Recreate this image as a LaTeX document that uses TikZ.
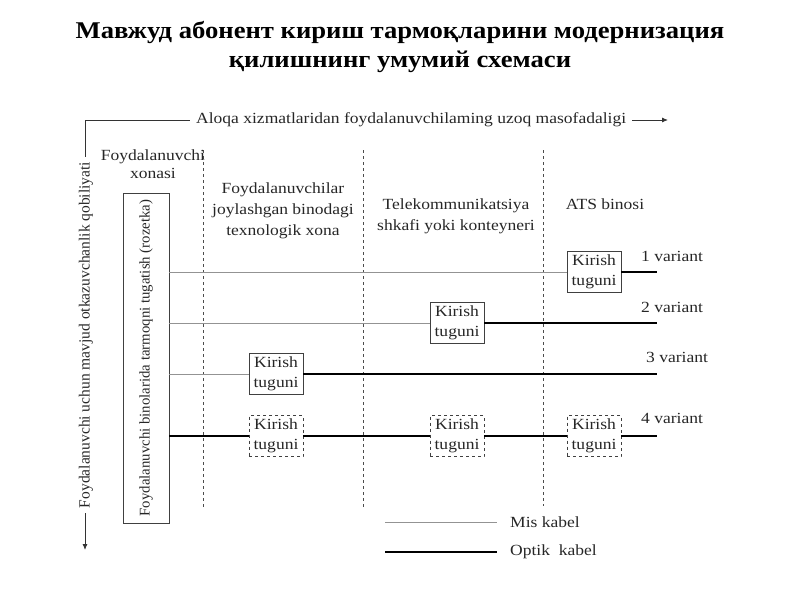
\documentclass[tikz,border=0pt]{standalone}
\usepackage{fontspec}
\setmainfont{Liberation Serif}
\usetikzlibrary{arrows.meta}
\newcommand{\wfont}{\fontsize{15.5}{21}\selectfont\addfontfeature{FakeStretch=1.13}}
\begin{document}
\begin{tikzpicture}[x=1pt,y=-1pt,
  lbl/.style={font=\wfont, align=center, inner sep=1pt, text=black!85},
  kbox/.style={draw=black!75, line width=0.9pt, minimum width=54pt, minimum height=41pt, inner sep=1pt, align=center, font=\fontsize{15.5}{20}\selectfont\addfontfeature{FakeStretch=1.13}, fill=white, text=black!85},
  kdash/.style={kbox, dashed},
  mis/.style={draw=gray!85, line width=1pt},
  opt/.style={draw=black, line width=2.6pt},
  sep/.style={draw=black!70, dashed, line width=0.7pt},
  thinl/.style={draw=black!80, line width=0.9pt},
  ttl/.style={font=\bfseries\fontsize{24}{28}\selectfont\addfontfeature{FakeStretch=1.11}},
]
\useasboundingbox (0,0) rectangle (800,600);
% title
\node[ttl] (t1) at (400,32) {Мавжуд абонент кириш тармоқларини модернизация};
\node[ttl] (t2) at (400,62) {қилишнинг умумий схемаси};
% column separators
\coordinate (s1a) at (203,150); \coordinate (s1b) at (203,508);
\coordinate (s2a) at (363,150); \coordinate (s2b) at (363,508);
\coordinate (s3a) at (543,150); \coordinate (s3b) at (543,506);
\draw[sep] (s1a) -- (s1b);
\draw[sep] (s2a) -- (s2b);
\draw[sep] (s3a) -- (s3b);
% top axis
\node[lbl, anchor=west, inner sep=6pt] (aloqa) at (190,120) {Aloqa xizmatlaridan foydalanuvchilaming uzoq masofadaligi};
\coordinate (arrR) at (668,120);
\draw[thinl, -{Latex[length=6pt,width=5pt]}] (aloqa.east) -- (arrR);
% left axis
\node[font=\fontsize{15.5}{18}\selectfont, text=black!85, rotate=90, inner sep=5pt] (otkaz) at (86,335) {Foydalanuvchi uchun mavjud otkazuvchanlik qobiliyati};
\coordinate (arrD) at (85,550);
\draw[thinl] (otkaz.east -| 85,0) |- (aloqa.west);
\draw[thinl, -{Latex[length=6pt,width=5pt]}] (otkaz.west -| 85,0) -- (arrD);
% column headers
\node[lbl, font=\fontsize{15.5}{18.5}\selectfont\addfontfeature{FakeStretch=1.13}] (h1) at (153,164) {Foydalanuvchi\\xonasi};
\node[lbl] (h2) at (283,211) {Foydalanuvchilar\\joylashgan binodagi\\texnologik xona};
\node[lbl] (h3) at (456,216) {Telekommunikatsiya\\shkafi yoki konteyneri};
\node[lbl] (h4) at (605,204) {ATS binosi};
% rozetka box
\node[draw=black!75, line width=0.9pt, rotate=90, minimum width=330pt, minimum height=46pt, inner sep=1pt, font=\fontsize{14.8}{16}\selectfont, text=black!85] (roz) at (146,358) {Foydalanuvchi binolarida tarmoqni tugatish (rozetka)};
% variant 1
\node[kbox] (k1) at (594,272) {Kirish\\tuguni};
\coordinate (e1) at (657,272);
\draw[mis] (roz.south |- k1) -- (k1.west);
\draw[opt] (k1.east) -- (e1);
\node[lbl, anchor=west] (v1) at (640,256) {1 variant};
% variant 2
\node[kbox] (k2) at (457,323) {Kirish\\tuguni};
\coordinate (e2) at (657,323);
\draw[mis] (roz.south |- k2) -- (k2.west);
\draw[opt] (k2.east) -- (e2);
\node[lbl, anchor=west] (v2) at (640,307) {2 variant};
% variant 3
\node[kbox] (k3) at (276,374) {Kirish\\tuguni};
\coordinate (e3) at (657,374);
\draw[mis] (roz.south |- k3) -- (k3.west);
\draw[opt] (k3.east) -- (e3);
\node[lbl, anchor=west] (v3) at (645,357) {3 variant};
% variant 4
\node[kdash] (k4a) at (276,436) {Kirish\\tuguni};
\node[kdash] (k4b) at (457,436) {Kirish\\tuguni};
\node[kdash] (k4c) at (594,436) {Kirish\\tuguni};
\coordinate (e4) at (657,436);
\draw[opt] (roz.south |- k4a) -- (k4a.west);
\draw[opt] (k4a.east) -- (k4b.west);
\draw[opt] (k4b.east) -- (k4c.west);
\draw[opt] (k4c.east) -- (e4);
\node[lbl, anchor=west] (v4) at (640,418) {4 variant};
% legend
\coordinate (l1a) at (385,522); \coordinate (l1b) at (497,522);
\coordinate (l2a) at (385,552); \coordinate (l2b) at (497,552);
\draw[mis] (l1a) -- (l1b);
\draw[opt] (l2a) -- (l2b);
\node[lbl, anchor=west] (m) at (509,522) {Mis kabel};
\node[lbl, anchor=west] (o) at (509,552) {Optik\ \ kabel};
\end{tikzpicture}
\end{document}
